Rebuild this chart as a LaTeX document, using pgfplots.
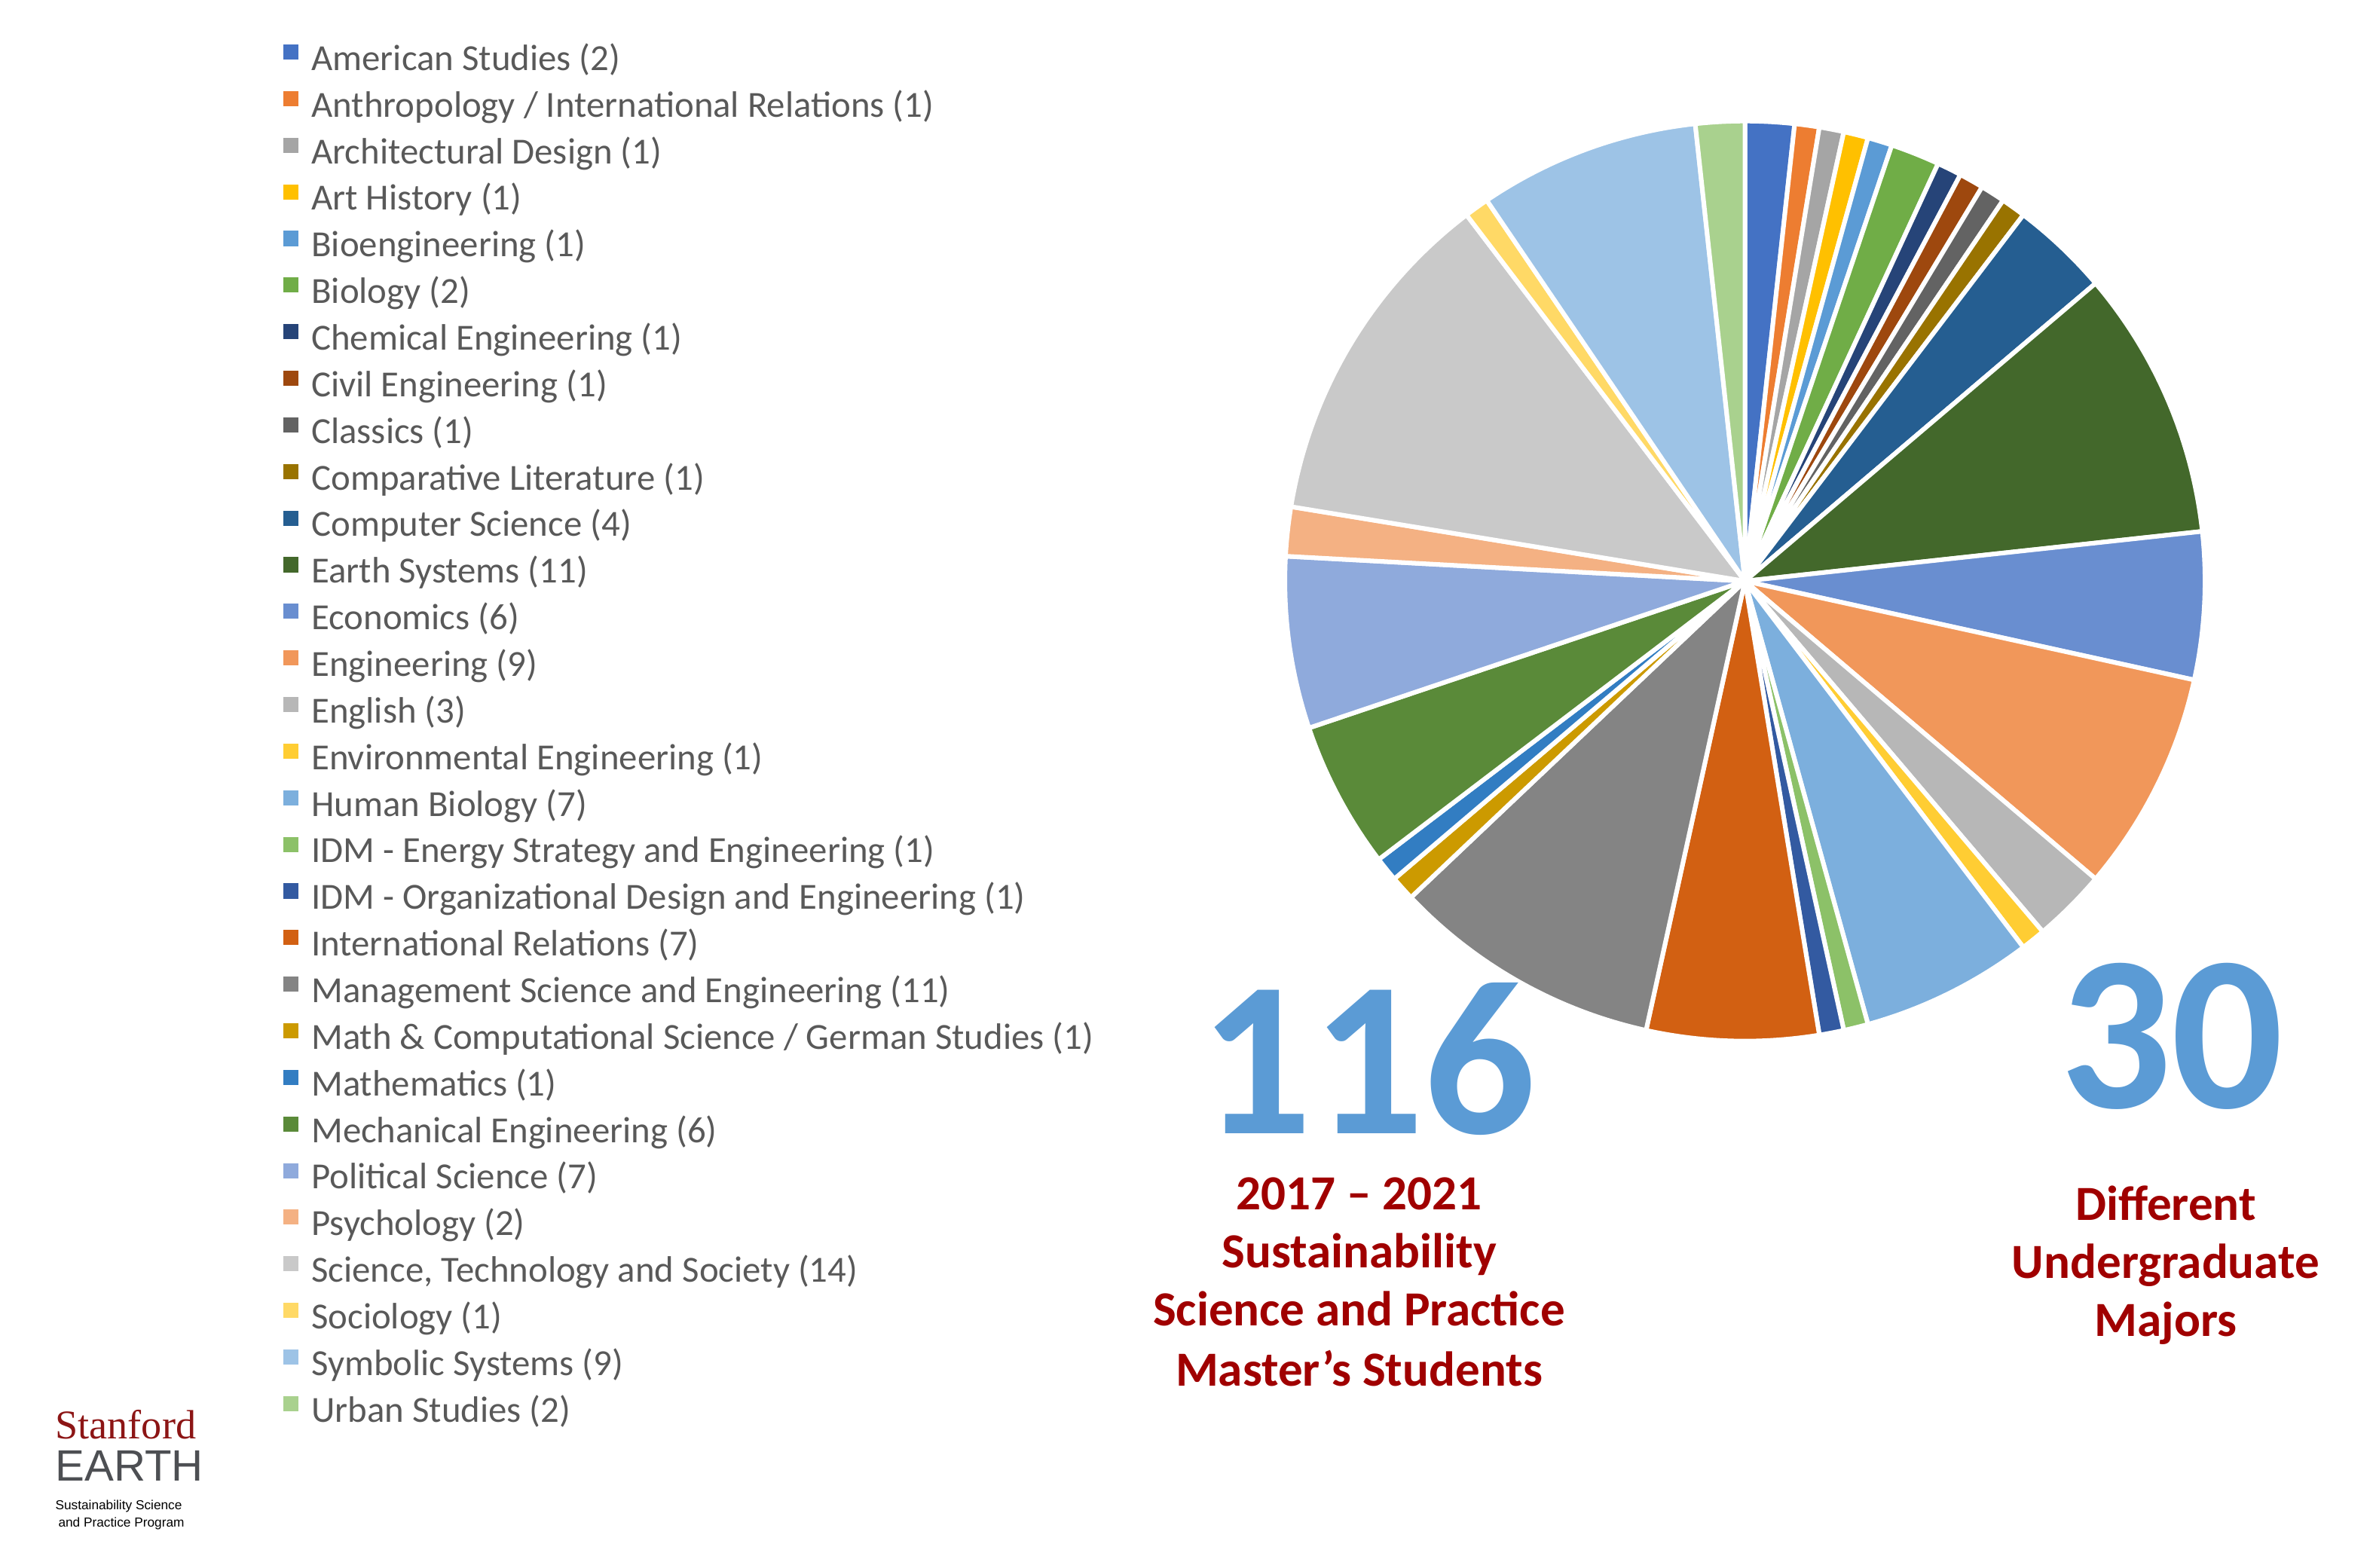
\documentclass[border=0pt]{standalone}
\usepackage{pgfplots}
\pgfplotsset{compat=1.18}
\usepackage{fontspec}
\setmainfont{Carlito}
\newfontfamily\logoserif{Liberation Serif}
\newfontfamily\logosans{Liberation Sans}
\definecolor{c1}{HTML}{4472C4}
\definecolor{c2}{HTML}{ED7D31}
\definecolor{c3}{HTML}{A5A5A5}
\definecolor{c4}{HTML}{FFC000}
\definecolor{c5}{HTML}{5B9BD5}
\definecolor{c6}{HTML}{70AD47}
\definecolor{c7}{HTML}{264478}
\definecolor{c8}{HTML}{9E480E}
\definecolor{c9}{HTML}{636363}
\definecolor{c10}{HTML}{997300}
\definecolor{c11}{HTML}{255E91}
\definecolor{c12}{HTML}{43682B}
\definecolor{c13}{HTML}{698ED0}
\definecolor{c14}{HTML}{F1975A}
\definecolor{c15}{HTML}{B7B7B7}
\definecolor{c16}{HTML}{FFCD33}
\definecolor{c17}{HTML}{7CAFDD}
\definecolor{c18}{HTML}{8CC168}
\definecolor{c19}{HTML}{335AA1}
\definecolor{c20}{HTML}{D26012}
\definecolor{c21}{HTML}{848484}
\definecolor{c22}{HTML}{CC9A00}
\definecolor{c23}{HTML}{327DC2}
\definecolor{c24}{HTML}{5A8A39}
\definecolor{c25}{HTML}{8FAADC}
\definecolor{c26}{HTML}{F4B183}
\definecolor{c27}{HTML}{C9C9C9}
\definecolor{c28}{HTML}{FFD966}
\definecolor{c29}{HTML}{9DC3E6}
\definecolor{c30}{HTML}{A9D18E}
\definecolor{textgray}{HTML}{595959}
\definecolor{bigblue}{HTML}{5B9BD5}
\definecolor{darkred}{HTML}{A00000}
\definecolor{cardinal}{HTML}{8C1515}
\definecolor{earthgray}{HTML}{4D4F53}

\def\total{116}
\gdef\astart{90}
\newcommand\slice[3]{%
  \pgfmathsetmacro\aend{\astart-#1*360/\total}%
  \edef\tmp{\noexpand\addplot[fill=#2, draw=white, line width=3pt, line join=round,
     domain=\aend:\astart, samples=60] ({cos(x)},{sin(x)}) -- (axis cs:0,0) -- cycle;}%
  \tmp
  \addlegendentry{#3}%
  \global\let\astart\aend
}

\begin{document}
\begin{tikzpicture}[x=1pt,y=1pt]
\useasboundingbox (0,0) rectangle (1568,-1036);
\begin{axis}[
  at={(849pt,-688pt)}, anchor=south west,
  width=608pt, height=608pt, scale only axis,
  xmin=-1, xmax=1, ymin=-1, ymax=1,
  hide axis, clip=false,
  legend image code/.code={\fill[#1,draw=none] (0pt,1pt) rectangle (10pt,11pt);},
  legend cell align=left,
  legend style={at={(axis description cs:-1.0883,1.0905)}, anchor=north west,
    draw=none, fill=none, inner sep=0pt, outer sep=0pt,
    row sep=0pt, column sep=8.5pt,
    font=\fontsize{24.3}{28}\selectfont, text=textgray,
    nodes={inner sep=0pt, outer sep=0pt, text height=21.5pt, text depth=9.3pt}},
]
\slice{2}{c1}{American Studies (2)}
\slice{1}{c2}{Anthropology / International Relations (1)}
\slice{1}{c3}{Architectural Design (1)}
\slice{1}{c4}{Art History (1)}
\slice{1}{c5}{Bioengineering (1)}
\slice{2}{c6}{Biology (2)}
\slice{1}{c7}{Chemical Engineering (1)}
\slice{1}{c8}{Civil Engineering (1)}
\slice{1}{c9}{Classics (1)}
\slice{1}{c10}{Comparative Literature (1)}
\slice{4}{c11}{Computer Science (4)}
\slice{11}{c12}{Earth Systems (11)}
\slice{6}{c13}{Economics (6)}
\slice{9}{c14}{Engineering (9)}
\slice{3}{c15}{English (3)}
\slice{1}{c16}{Environmental Engineering (1)}
\slice{7}{c17}{Human Biology (7)}
\slice{1}{c18}{IDM - Energy Strategy and Engineering (1)}
\slice{1}{c19}{IDM - Organizational Design and Engineering (1)}
\slice{7}{c20}{International Relations (7)}
\slice{11}{c21}{Management Science and Engineering (11)}
\slice{1}{c22}{Math \& Computational Science / German Studies (1)}
\slice{1}{c23}{Mathematics (1)}
\slice{6}{c24}{Mechanical Engineering (6)}
\slice{7}{c25}{Political Science (7)}
\slice{2}{c26}{Psychology (2)}
\slice{14}{c27}{Science, Technology and Society (14)}
\slice{1}{c28}{Sociology (1)}
\slice{9}{c29}{Symbolic Systems (9)}
\slice{2}{c30}{Urban Studies (2)}
\end{axis}

% big numbers
\node[anchor=base, inner sep=0pt, text depth=0pt, text=bigblue, font=\fontsize{146}{150}\selectfont\bfseries] at (904,-749) {116};
\node[anchor=base, inner sep=0pt, text depth=0pt, text=bigblue, font=\fontsize{146}{150}\selectfont\bfseries] at (1435,-732) {30};

% red captions
\begin{scope}[every node/.style={anchor=base, inner sep=0pt, text=darkred, font=\fontsize{32.4}{36}\selectfont\bfseries}]
\node at (898,-799.6) {2017 – 2021};
\node at (898,-838) {Sustainability};
\node at (898,-876.3) {Science and Practice};
\node at (898,-916) {Master’s Students};
\node at (1431,-806.6) {Different};
\node at (1431,-844.8) {Undergraduate};
\node at (1431,-883) {Majors};
\end{scope}

% logo
\node[anchor=base west, inner sep=0pt, text=cardinal, font=\logoserif\fontsize{27}{30}\selectfont] at (36.4,-951) {Stanford};
\node[anchor=base west, inner sep=0pt, text=earthgray, font=\logosans\fontsize{29}{32}\selectfont] at (36.4,-978.6) {EARTH};
\node[anchor=base west, inner sep=0pt, text=black, font=\logosans\fontsize{8.6}{10}\selectfont] at (36.4,-997.6) {Sustainability Science};
\node[anchor=base west, inner sep=0pt, text=black, font=\logosans\fontsize{8.6}{10}\selectfont] at (38.4,-1009) {and Practice Program};
\end{tikzpicture}
\end{document}
